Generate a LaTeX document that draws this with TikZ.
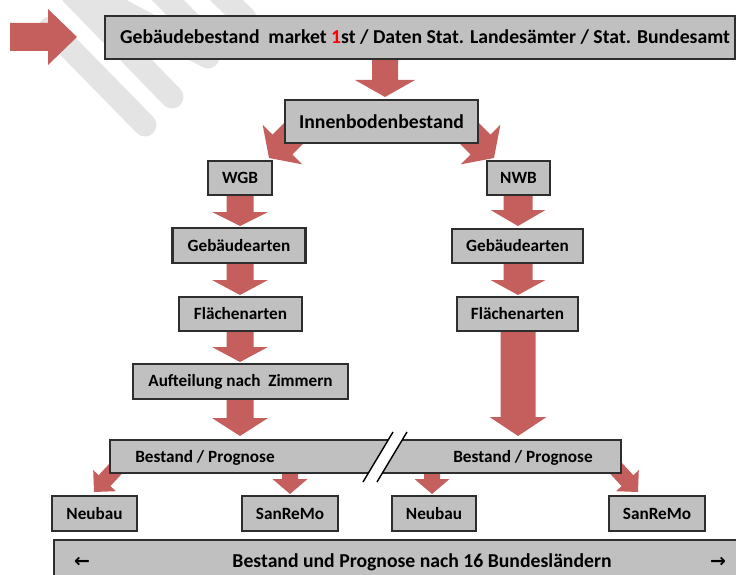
\documentclass[tikz,border=0pt]{standalone}
\usepackage{fontspec}
\setmainfont{Carlito}
\newfontfamily\symfont{DejaVu Sans}
\usetikzlibrary{calc,backgrounds,patterns}
\definecolor{arrowred}{HTML}{C55F5D}
\definecolor{boxgray}{HTML}{C0C0C0}
\definecolor{edge}{HTML}{2E2E2E}
\definecolor{wmark}{HTML}{E4E4E4}
% #1 start, #2 tip, #3 half body width, #4 half head width, #5 head length
\newcommand\fatarrow[5]{%
  \fill[arrowred] ($(#1)!#3pt!90:(#2)$)
    -- ($(#2)!#5pt!(#1)!#3pt!-90:(#1)$)
    -- ($(#2)!#5pt!(#1)!#4pt!-90:(#1)$)
    -- (#2)
    -- ($(#2)!#5pt!(#1)!#4pt!90:(#1)$)
    -- ($(#2)!#5pt!(#1)!#3pt!90:(#1)$)
    -- ($(#1)!#3pt!-90:(#2)$) -- cycle;}
\begin{document}
\begin{tikzpicture}[x=1pt,y=-1pt,
  box/.style={draw=edge, line width=2.4pt, fill=boxgray, inner sep=0pt, outer sep=0pt},
  lbl/.style={font=\bfseries\fontsize{17.2}{20}\selectfont, inner sep=0pt},
  big/.style={font=\bfseries\fontsize{19.7}{23}\selectfont, inner sep=0pt},
  sym/.style={font=\symfont\bfseries\fontsize{19}{22}\selectfont, inner sep=0pt},
  stripe/.style={draw=wmark, line width=23pt, line cap=round}]
\useasboundingbox (0,0) rectangle (736,575);
\clip (0,0) rectangle (736,575);

% boxes
\node[box, minimum width=630pt, minimum height=43pt] (top) at (420,37.5) {};
\node[big] (toptx) at (425,37.5) {Gebäudebestand\ \ market {\color{red}1}st / Daten Stat. Landesämter / Stat. Bundesamt};
\node[box, big, minimum width=193pt, minimum height=43pt] (inb) at (381.5,121.5) {Innenbodenbestand};
\node[box, lbl, minimum width=64pt, minimum height=34pt] (wgb) at (240,178) {WGB};
\node[box, lbl, minimum width=63pt, minimum height=34pt] (nwb) at (518.5,178) {NWB};
\node[box, lbl, minimum width=133pt, minimum height=35pt] (geb1) at (239,245.5) {Gebäudearten};
\node[box, lbl, minimum width=131pt, minimum height=34pt] (geb2) at (517.5,246) {Gebäudearten};
\node[box, lbl, minimum width=123pt, minimum height=34pt] (fl1) at (240.5,314) {Flächenarten};
\node[box, lbl, minimum width=121pt, minimum height=34pt] (fl2) at (517.5,314) {Flächenarten};
\node[box, lbl, minimum width=215pt, minimum height=35pt] (auf) at (240.5,381.5) {Aufteilung nach\ \ Zimmern};
\node[box, minimum width=511pt, minimum height=33pt] (bar) at (365.5,456.5) {};
\node[lbl] (bp1) at (205,458) {Bestand / Prognose};
\node[lbl] (bp2) at (523,458) {Bestand / Prognose};
\node[box, lbl, minimum width=85pt, minimum height=35pt] (neu1) at (94.5,513.5) {Neubau};
\node[box, lbl, minimum width=96pt, minimum height=35pt] (san1) at (290,513.5) {SanReMo};
\node[box, lbl, minimum width=84pt, minimum height=35pt] (neu2) at (434,513.5) {Neubau};
\node[box, lbl, minimum width=96pt, minimum height=35pt] (san2) at (657,513.5) {SanReMo};
\node[box, big, minimum width=736pt, minimum height=44pt] (bot) at (422,562) {Bestand und Prognose nach 16 Bundesländern};
\node[sym] (larr) at (82,562) {←};
\node[sym] (rarr) at (718,562) {→};

% break mark on the bar
\fill[white] (393,432) -- (407,432) -- (377,482) -- (363,482) -- cycle;
\draw[black, line width=1.4pt] (393,432) -- (363,482);
\draw[black, line width=1.4pt] (407,432) -- (377,482);

% connector end points
\coordinate (a0s) at (10,37);   \coordinate (a0e) at (77,37);
\coordinate (a1s) at (385,55);  \coordinate (a1e) at (385,97);
\coordinate (a2s) at (305,122); \coordinate (a2e) at (269,158);
\coordinate (a3s) at (458,122); \coordinate (a3e) at (494,158);
\coordinate (a4s) at (240,190); \coordinate (a4e) at (240,226);
\coordinate (a5s) at (518,190); \coordinate (a5e) at (518,226);
\coordinate (a6s) at (240,258); \coordinate (a6e) at (240,295);
\coordinate (a7s) at (518,258); \coordinate (a7e) at (518,295);
\coordinate (a8s) at (240,326); \coordinate (a8e) at (240,362);
\coordinate (a9s) at (240,394); \coordinate (a9e) at (240,436);
\coordinate (a10s) at (518,326); \coordinate (a10e) at (518,436);
\coordinate (a11s) at (120,464); \coordinate (a11e) at (94,492);
\coordinate (a12s) at (290,468); \coordinate (a12e) at (290,494);
\coordinate (a13s) at (432,468); \coordinate (a13e) at (432,494);
\coordinate (a14s) at (612,464); \coordinate (a14e) at (638,492);

\begin{scope}[on background layer]
  % watermark stripes
  \draw[stripe] (50,28) -- (145,125);
  \draw[stripe] (72,-6) -- (172,97);
  \draw[stripe] (95,-4) -- (208,57);
  \draw[stripe] (160,-8) -- (205,38);
  \draw[stripe] (220,-6) -- (245,18);
  % block arrows
  \fatarrow{a0s}{a0e}{14}{28}{29}
  \fatarrow{a1s}{a1e}{13}{30}{17}
  \fatarrow{a2s}{a2e}{14}{28}{19}
  \fatarrow{a3s}{a3e}{14}{28}{19}
  \fatarrow{a4s}{a4e}{13.5}{28}{14}
  \fatarrow{a5s}{a5e}{14.5}{27.5}{16}
  \fatarrow{a6s}{a6e}{13.5}{28}{15}
  \fatarrow{a7s}{a7e}{14.5}{27.5}{15}
  \fatarrow{a8s}{a8e}{13.5}{28}{15}
  \fatarrow{a9s}{a9e}{13.5}{28}{18}
  \fatarrow{a10s}{a10e}{17.5}{28.5}{19}
  \fatarrow{a11s}{a11e}{8}{15.5}{15.5}
  \fatarrow{a12s}{a12e}{8}{17.5}{15}
  \fatarrow{a13s}{a13e}{8}{17.5}{15}
  \fatarrow{a14s}{a14e}{8}{15.5}{15.5}
\end{scope}
\end{tikzpicture}
\end{document}
